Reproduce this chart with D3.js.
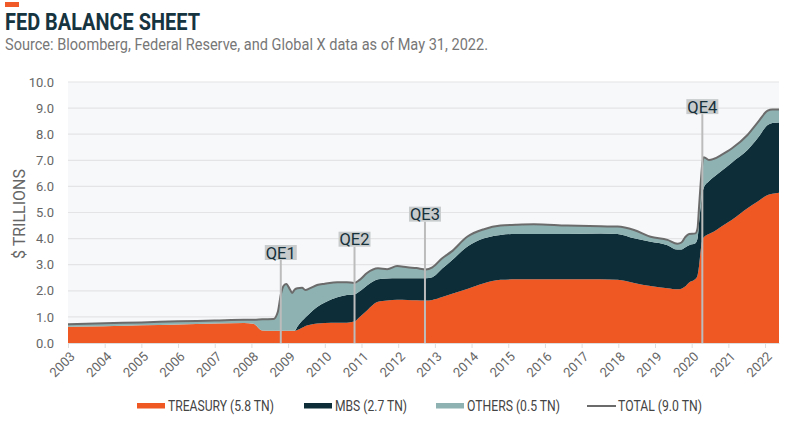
<!DOCTYPE html>
<html><head><meta charset="utf-8">
<script src="https://cdn.jsdelivr.net/npm/d3@7/dist/d3.min.js"></script>
<style>body{margin:0;background:#fff;} svg{display:block;font-family:Roboto,"Open Sans",sans-serif;}</style>
</head><body>
<svg id="c" width="800" height="427"></svg>
<script>
// decimal-year sample points
const dates = [2003.0,2004.0,2005.0,2006.0,2007.0,2007.8,2008.05,2008.3,2008.6,2008.72,2008.8,2008.88,2008.95,2009.05,2009.11,2009.18,2009.25,2009.38,2009.47,2009.6,2009.79,2010.0,2010.34,2010.6,2010.8,2010.95,2011.15,2011.45,2011.7,2011.97,2012.25,2012.5,2012.75,2012.93,2013.2,2013.45,2013.88,2014.34,2014.79,2015.2,2015.7,2016.6,2017.52,2017.98,2018.43,2018.88,2019.34,2019.61,2019.72,2019.82,2019.93,2020.1,2020.16,2020.2,2020.25,2020.29,2020.33,2020.47,2020.61,2020.8,2021.1,2021.52,2021.8,2022.07,2022.2,2022.38];
const treasury = [0.62,0.64,0.68,0.71,0.75,0.77,0.74,0.48,0.47,0.47,0.47,0.47,0.47,0.47,0.47,0.47,0.50,0.58,0.65,0.70,0.75,0.77,0.78,0.78,0.82,1.00,1.25,1.58,1.63,1.66,1.65,1.64,1.63,1.65,1.76,1.88,2.07,2.29,2.42,2.44,2.44,2.44,2.44,2.42,2.30,2.18,2.10,2.06,2.08,2.16,2.32,2.45,2.60,2.95,3.60,3.95,4.05,4.18,4.27,4.45,4.72,5.16,5.42,5.67,5.72,5.76];
const mbs = [0,0,0,0,0,0,0,0,0,0,0,0,0,0,0,0,0.12,0.27,0.33,0.45,0.63,0.78,0.97,1.06,1.04,0.98,0.95,0.86,0.84,0.82,0.83,0.84,0.85,0.87,1.09,1.27,1.62,1.72,1.72,1.74,1.74,1.74,1.76,1.76,1.71,1.70,1.65,1.52,1.50,1.50,1.43,1.37,1.40,1.65,1.70,1.79,1.90,2.02,2.10,2.13,2.20,2.23,2.43,2.68,2.71,2.69];
const others = [0.10,0.12,0.11,0.12,0.11,0.12,0.15,0.43,0.45,0.73,1.38,1.73,1.79,1.58,1.45,1.58,1.48,1.27,1.05,0.95,0.84,0.72,0.58,0.49,0.44,0.44,0.48,0.42,0.36,0.47,0.42,0.39,0.34,0.38,0.40,0.35,0.38,0.35,0.36,0.35,0.37,0.32,0.27,0.28,0.32,0.19,0.20,0.22,0.27,0.39,0.43,0.38,0.40,0.60,0.90,1.14,1.17,0.81,0.69,0.62,0.54,0.58,0.60,0.55,0.52,0.50];
const yearTicks = d3.range(2003, 2023);
const yTicks = [0,1,2,3,4,5,6,7,8,9,10];
const qeNames = ["QE1","QE2","QE3","QE4"];
const qeDates = [2008.8,2010.81,2012.73,2020.29];
const qeLevels = [3.18,3.69,4.65,8.77];
const legendNames = ["TREASURY (5.8 TN)","MBS (2.7 TN)","OTHERS (0.5 TN)","TOTAL (9.0 TN)"];
const colors = {treasury:"#ef5723", mbs:"#0d2e39", others:"#8eb2b1", total:"#6b6b6b"};

const rows = dates.map((d,i)=>({date:d, treasury:treasury[i], mbs:mbs[i], others:others[i]}));
const svg = d3.select("#c");
const L=68, R=779, T=82, B=343;
const x = d3.scaleLinear().domain([2003, 2022.38]).range([L,R]);
const y = d3.scaleLinear().domain([0,10]).range([B,T]);

// header
svg.append("rect").attr("x",5).attr("y",2).attr("width",14).attr("height",5).attr("fill","#f05a28");
svg.append("text").attr("x",5).attr("y",30).attr("font-size",23).attr("font-weight",700).attr("fill","#16343f")
  .attr("textLength",195).attr("lengthAdjust","spacingAndGlyphs").text("FED BALANCE SHEET");
svg.append("text").attr("x",5).attr("y",50).attr("font-size",16).attr("fill","#777")
  .attr("textLength",483).attr("lengthAdjust","spacingAndGlyphs").text("Source: Bloomberg, Federal Reserve, and Global X data as of May 31, 2022.");

// plot bg
svg.append("rect").attr("x",L).attr("y",T).attr("width",R-L).attr("height",B-T).attr("fill","#f7f8fa");
svg.append("g").selectAll("line").data(yTicks.filter(v=>v>0)).join("line")
  .attr("x1",L).attr("x2",R).attr("y1",d=>y(d)).attr("y2",d=>y(d)).attr("stroke","#e4e4e6").attr("stroke-width",1.2);

// y axis
const ya = svg.append("g").attr("transform",`translate(${L},0)`)
  .call(d3.axisLeft(y).tickValues(yTicks).tickFormat(d3.format(".1f")).tickSize(0).tickPadding(14));
ya.select(".domain").remove();
ya.selectAll("text").attr("font-size",13).attr("fill","#666").attr("font-family","Roboto,sans-serif");
svg.append("text").attr("transform","translate(25,214) rotate(-90)").attr("text-anchor","middle")
  .attr("font-size",16).attr("fill","#666").text("$ TRILLIONS");

// stack
const stack = d3.stack().keys(["treasury","mbs","others"])(rows);
const area = d3.area().x(d=>x(d.data.date)).y0(d=>y(d[0])).y1(d=>y(d[1])).curve(d3.curveMonotoneX);
svg.append("g").selectAll("path").data(stack).join("path")
  .attr("d",area).attr("fill",d=>colors[d.key]);
const line = d3.line().x(d=>x(d.date)).y(d=>y(d.treasury+d.mbs+d.others)).curve(d3.curveMonotoneX);
svg.append("path").datum(rows).attr("d",line).attr("fill","none").attr("stroke",colors.total).attr("stroke-width",2);

// x axis
const xa = svg.append("g").attr("transform",`translate(0,${B})`)
  .call(d3.axisBottom(x).tickValues(yearTicks).tickFormat(d3.format("d")).tickSize(5).tickSizeOuter(0));
xa.select(".domain").attr("stroke","#ddd");
xa.selectAll(".tick line").attr("stroke","#ddd");
xa.selectAll("text").attr("font-size",13).attr("fill","#666").attr("font-family","Roboto,sans-serif")
  .attr("text-anchor","end").attr("y",0).attr("dy","0.35em").attr("transform","translate(4,11) rotate(-45)");

// QE markers
const qe = svg.append("g").selectAll("g").data(qeNames).join("g");
qe.append("line").attr("x1",(d,i)=>x(qeDates[i])).attr("x2",(d,i)=>x(qeDates[i]))
  .attr("y1",(d,i)=>y(qeLevels[i])).attr("y2",B).attr("stroke","#bcbcbc").attr("stroke-width",2);
qe.append("rect").attr("x",(d,i)=>x(qeDates[i])-16).attr("y",(d,i)=>y(qeLevels[i])-15)
  .attr("width",32).attr("height",15).attr("fill","#c9cccd");
qe.append("text").attr("x",(d,i)=>x(qeDates[i])).attr("y",(d,i)=>y(qeLevels[i])-1.5)
  .attr("text-anchor","middle").attr("font-size",16.5).attr("fill","#17313b").text(d=>d);

// legend
const lg = svg.append("g");
const lx = [137,304,436,587];
const lw = [106,72,93,84];
legendNames.forEach((n,i)=>{
  if(i<3) lg.append("rect").attr("x",lx[i]).attr("y",403).attr("width",28).attr("height",5.5).attr("fill",[colors.treasury,colors.mbs,colors.others][i]);
  else lg.append("line").attr("x1",lx[i]).attr("x2",lx[i]+29).attr("y1",406).attr("y2",406).attr("stroke",colors.total).attr("stroke-width",2);
  lg.append("text").attr("x",lx[i]+31).attr("y",411).attr("font-size",14).attr("fill","#444")
    .attr("textLength",lw[i]).attr("lengthAdjust","spacingAndGlyphs").text(n);
});
</script>
</body></html>
